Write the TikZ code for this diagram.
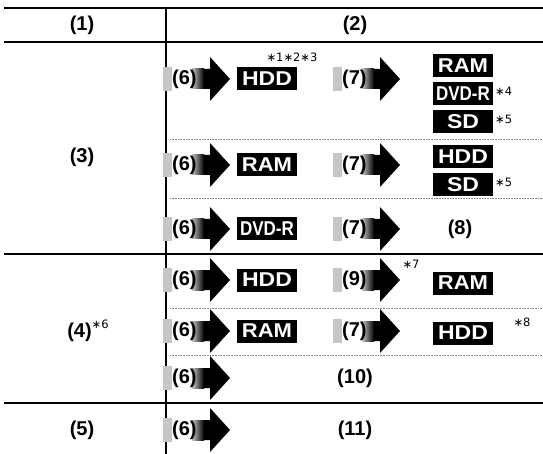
\documentclass[tikz,border=0pt]{standalone}
\usepackage{fontspec}
\setmainfont{Liberation Sans}
\newfontfamily\djv{DejaVu Sans}
\usepackage{graphicx}
\begin{document}
\begin{tikzpicture}[x=1pt,y=-1pt,
  lab/.style={font=\bfseries\fontsize{20}{20}\selectfont, inner sep=0pt},
  note/.style={font=\djv\fontsize{11.5}{11.5}\selectfont, inner sep=0pt},
  mbox/.style={fill=black, text=white, font=\bfseries\fontsize{20}{20}\selectfont,
    minimum width=60pt, minimum height=23pt, inner sep=0pt},
  rule/.style={line width=2.5pt},
  sep/.style={densely dotted, gray, line width=0.6pt},
  bigarr/.pic={
    \fill[gray!45] (0,-12) rectangle (9,12);
    \fill[black] (33,-10) -- (47,-10) -- (47,-22) -- (67,0) -- (47,22) -- (47,10) -- (33,10) -- cycle;
    \shade[left color=gray!45, right color=black] (29,-10) rectangle (41,10);
    \node[lab, anchor=west] (-t) at (9,0) {#1};
  }]
\useasboundingbox (0,0) rectangle (543,454);
% frame lines
\draw[rule] (4,8) -- (543,8);
\draw[rule] (4,42) -- (543,42);
\draw[rule] (4,254) -- (543,254);
\draw[rule] (4,403) -- (543,403);
\draw[line width=2.2pt] (166,8) -- (166,454);
\draw[sep] (170,139) -- (543,139);
\draw[sep] (170,198) -- (543,198);
\draw[sep] (170,308) -- (543,308);
\draw[sep] (170,355) -- (543,355);
% header
\node[lab] (h1) at (82,25) {(1)};
\node[lab] (h2) at (355,25) {(2)};
% left column
\node[lab] (c3) at (82,157) {(3)};
\node[lab] (c4) at (88,331) {(4)\raisebox{9pt}{\djv\fontsize{11.5}{11.5}\selectfont\mdseries ∗6}};
\node[lab] (c5) at (82,430) {(5)};
% row 1
\pic (a1) at (163,79) {bigarr={(6)}};
\node[mbox] (b1) at (267,79) {\scalebox{1.15}[1]{HDD}};
\node[note] (n123) at (292,57) {∗1∗2∗3};
\pic (a1b) at (333,79) {bigarr={(7)}};
\node[mbox] (r1a) at (463,66) {\scalebox{1.1}[1]{RAM}};
\node[mbox] (r1b) at (463,94) {\scalebox{0.85}[1]{DVD-R}};
\node[note, anchor=west] (n4) at (495,91) {∗4};
\node[mbox] (r1c) at (463,122) {\scalebox{1.15}[1]{SD}};
\node[note, anchor=west] (n5a) at (495,119) {∗5};
% row 2
\pic (a2) at (163,165) {bigarr={(6)}};
\node[mbox] (b2) at (267,165) {\scalebox{1.1}[1]{RAM}};
\pic (a2b) at (333,165) {bigarr={(7)}};
\node[mbox] (r2a) at (463,157) {\scalebox{1.15}[1]{HDD}};
\node[mbox] (r2b) at (463,185) {\scalebox{1.15}[1]{SD}};
\node[note, anchor=west] (n5b) at (495,182) {∗5};
% row 3
\pic (a3) at (163,229) {bigarr={(6)}};
\node[mbox] (b3) at (267,229) {\scalebox{0.85}[1]{DVD-R}};
\pic (a3b) at (333,229) {bigarr={(7)}};
\node[lab] (t8) at (460,229) {(8)};
% row 4
\pic (a4) at (163,280) {bigarr={(6)}};
\node[mbox] (b4) at (267,280) {\scalebox{1.15}[1]{HDD}};
\pic (a4b) at (333,280) {bigarr={(9)}};
\node[note] (n7) at (411,264) {∗7};
\node[mbox] (r4) at (463,283) {\scalebox{1.1}[1]{RAM}};
% row 5
\pic (a5) at (163,331) {bigarr={(6)}};
\node[mbox] (b5) at (267,331) {\scalebox{1.1}[1]{RAM}};
\pic (a5b) at (333,331) {bigarr={(7)}};
\node[mbox] (r5) at (463,333) {\scalebox{1.15}[1]{HDD}};
\node[note] (n8) at (522,322) {∗8};
% row 6
\pic (a6) at (163,378) {bigarr={(6)}};
\node[lab] (t10) at (355,378) {(10)};
% row 7
\pic (a7) at (163,430) {bigarr={(6)}};
\node[lab] (t11) at (355,430) {(11)};
\end{tikzpicture}
\end{document}
